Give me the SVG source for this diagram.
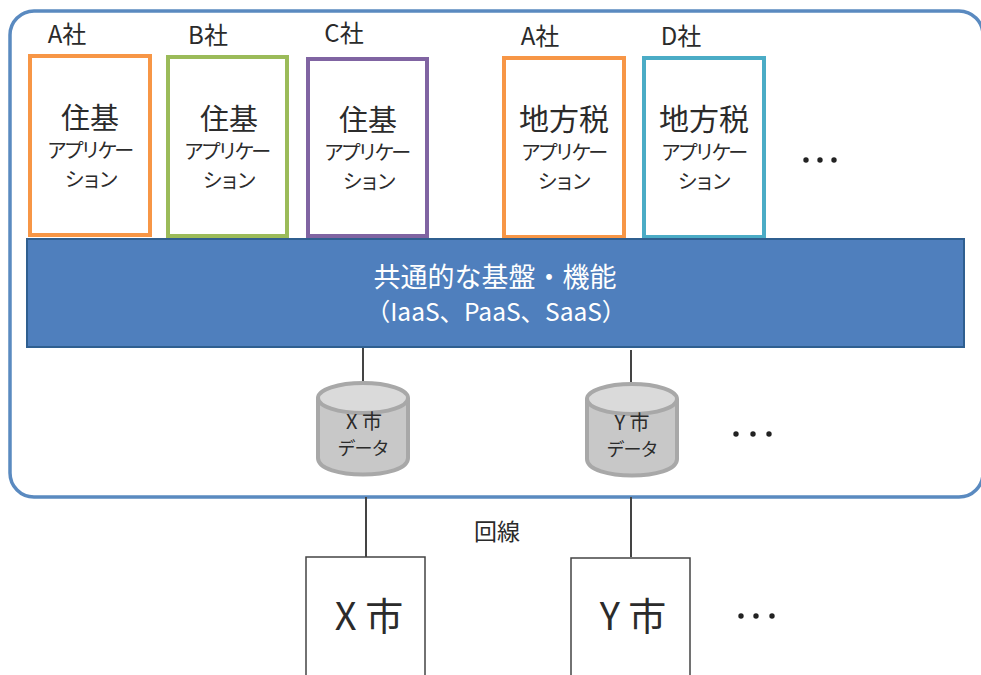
<svg xmlns="http://www.w3.org/2000/svg" width="981" height="675" viewBox="0 0 981 675">
<style>
text{font-family:"Noto Sans CJK JP","Noto Sans",sans-serif;fill:#2b2b2b;text-anchor:middle}
.app{fill:#fff;stroke-width:4}
.co{font-size:24px}.big{font-size:29px}.big3{font-size:30px}.sm{font-size:20px;letter-spacing:-3.2px}
.c{fill:#c8c8c8;stroke:#a8a8a8;stroke-width:4}.ct{fill:#dadada;stroke:#a8a8a8;stroke-width:4}
.d{font-size:18px;letter-spacing:-1px}.dx{font-size:20px}.city{fill:#fff;stroke:#444;stroke-width:1.5}
.ln{stroke:#444;stroke-width:2;fill:none}
.dots{fill:#222}
</style>
<rect width="981" height="675" fill="#fff"/>
<g id="container"><rect x="10" y="11" width="973" height="486" rx="24" fill="#fff" stroke="#5a8ac0" stroke-width="3.5"/></g>
<g id="connectors">
<path class="ln" d="M363 348V381M631 350V382M366 497V557M631 497V557"/>
</g>
<g id="app1"><rect class="app" x="30" y="56" width="120" height="179" stroke="#f79646"/><text class="co" x="67" y="43">A社</text><text class="big" x="90" y="129">住基</text><text class="sm" x="89" y="158">アプリケー</text><text class="sm" x="90" y="187">ション</text></g>
<g id="app2"><rect class="app" x="168" y="57" width="119" height="179" stroke="#9bbb59"/><text class="co" x="208" y="44">B社</text><text class="big" x="229" y="130">住基</text><text class="sm" x="226" y="159">アプリケー</text><text class="sm" x="228" y="188">ション</text></g>
<g id="app3"><rect class="app" x="308" y="59" width="119" height="177" stroke="#8064a2"/><text class="co" x="344" y="42">C社</text><text class="big" x="368" y="131">住基</text><text class="sm" x="366" y="160">アプリケー</text><text class="sm" x="368" y="189">ション</text></g>
<g id="app4"><rect class="app" x="504" y="58" width="120" height="179" stroke="#f79646"/><text class="co" x="540" y="45">A社</text><text class="big3" x="564" y="130">地方税</text><text class="sm" x="563" y="160">アプリケー</text><text class="sm" x="563" y="189">ション</text></g>
<g id="app5"><rect class="app" x="644" y="58" width="120" height="179" stroke="#4bacc6"/><text class="co" x="681" y="45">D社</text><text class="big3" x="704" y="130">地方税</text><text class="sm" x="703" y="160">アプリケー</text><text class="sm" x="703" y="189">ション</text></g>
<g id="platform"><rect x="27" y="239" width="937" height="108" fill="#4f7fbd" stroke="#2f5f90" stroke-width="2"/><text x="495" y="287" font-size="27" style="fill:#fff">共通的な基盤・機能</text><text x="496" y="321" font-size="24.5" style="fill:#fff">（IaaS、PaaS、SaaS）</text></g>
<g id="dbx"><path class="c" d="M318 398V458C318 480 408 480 408 458V398"/><ellipse class="ct" cx="363" cy="398" rx="45" ry="15"/><text class="dx" x="364" y="429">X 市</text><text class="d" x="363" y="455">データ</text></g>
<g id="dby"><path class="c" d="M587 399V459C587 481 677 481 677 459V399"/><ellipse class="ct" cx="632" cy="399" rx="45" ry="15"/><text class="dx" x="632" y="430">Y 市</text><text class="d" x="632" y="456">データ</text></g>
<g id="cityx"><path class="city" d="M306 675V557H425V675"/><text x="369" y="630" font-size="38">X 市</text></g>
<g id="cityy"><path class="city" d="M571 675V558H690V675"/><text x="633" y="630" font-size="38">Y 市</text></g>
<text x="497" y="540" font-size="23">回線</text>
<g id="dots" class="dots"><circle cx="806" cy="160" r="2.7"/><circle cx="820" cy="160" r="2.7"/><circle cx="834" cy="160" r="2.7"/><circle cx="736" cy="434" r="2.7"/><circle cx="753" cy="434" r="2.7"/><circle cx="769" cy="434" r="2.7"/><circle cx="741" cy="616" r="2.7"/><circle cx="756" cy="616" r="2.7"/><circle cx="772" cy="616" r="2.7"/></g>
</svg>
